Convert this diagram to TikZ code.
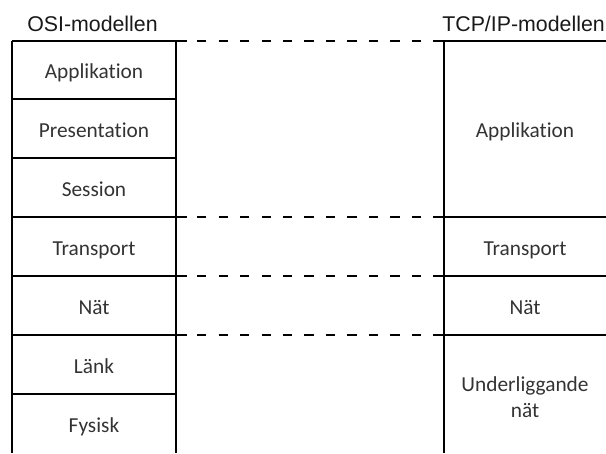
\documentclass[tikz,border=0pt]{standalone}
\usepackage{fontspec}
\setmainfont{Carlito}[Ligatures={NoCommon}]
\newfontfamily\arialf{Liberation Sans}
\begin{document}
\begin{tikzpicture}[x=0.75pt,y=-0.75pt,
  grid/.style={line width=1.9pt, black},
  dline/.style={line width=1.9pt, black, dash pattern=on 7pt off 9.1pt, dash phase=8.5pt},
  cell/.style={font=\fontsize{16}{19.5}\selectfont, text=black!80, anchor=base, inner sep=0pt},
  title/.style={font=\arialf\fontsize{16}{19}\selectfont, text=black!90, anchor=base, inner sep=0pt}]
\useasboundingbox (0,0) rectangle (606,453);
% titles
\node[title, anchor=base west] (osiT) at (27,32) {OSI-modellen};
\node[title, anchor=base east] (tcpT) at (605,32) {TCP/IP-modellen};
% grid coordinates
\foreach \n/\y in {a/41,b/99,c/158,d/217,e/276,f/335,g/394,h/453}{
  \coordinate (L\n) at (12,\y);
  \coordinate (M\n) at (176,\y);
  \coordinate (S\n) at (187,\y);
  \coordinate (T\n) at (433,\y);
  \coordinate (R\n) at (444,\y);
  \coordinate (E\n) at (606,\y);
}
% verticals
\draw[grid] (La) -- (Lh);
\draw[grid] (Ma) -- (Mh);
\draw[grid] (Ra) -- (Rh);
% left horizontals
\foreach \n in {b,c,g}{\draw[grid] (L\n) -- (M\n);}
\foreach \n in {a,d,e,f}{
  \draw[grid] (L\n) -- (S\n);
  \draw[grid] (T\n) -- (E\n);
  \draw[dline] (S\n) -- (T\n);
}
% left cells
\node[cell] (l1) at (94,78.5) {Applikation};
\node[cell] (l2) at (94,137) {Presentation};
\node[cell] (l3) at (94,196) {Session};
\node[cell] (l4) at (94,255) {Transport};
\node[cell] (l5) at (94,314) {Nät};
\node[cell] (l6) at (94,373) {Länk};
\node[cell] (l7) at (94,432) {Fysisk};
% right cells
\node[cell] (r1) at (525,137.5) {Applikation};
\node[cell] (r2) at (525,255) {Transport};
\node[cell] (r3) at (525,314) {Nät};
\node[cell, anchor=center, align=center] (r4) at (525,397) {Underliggande\\nät};
\end{tikzpicture}
\end{document}
